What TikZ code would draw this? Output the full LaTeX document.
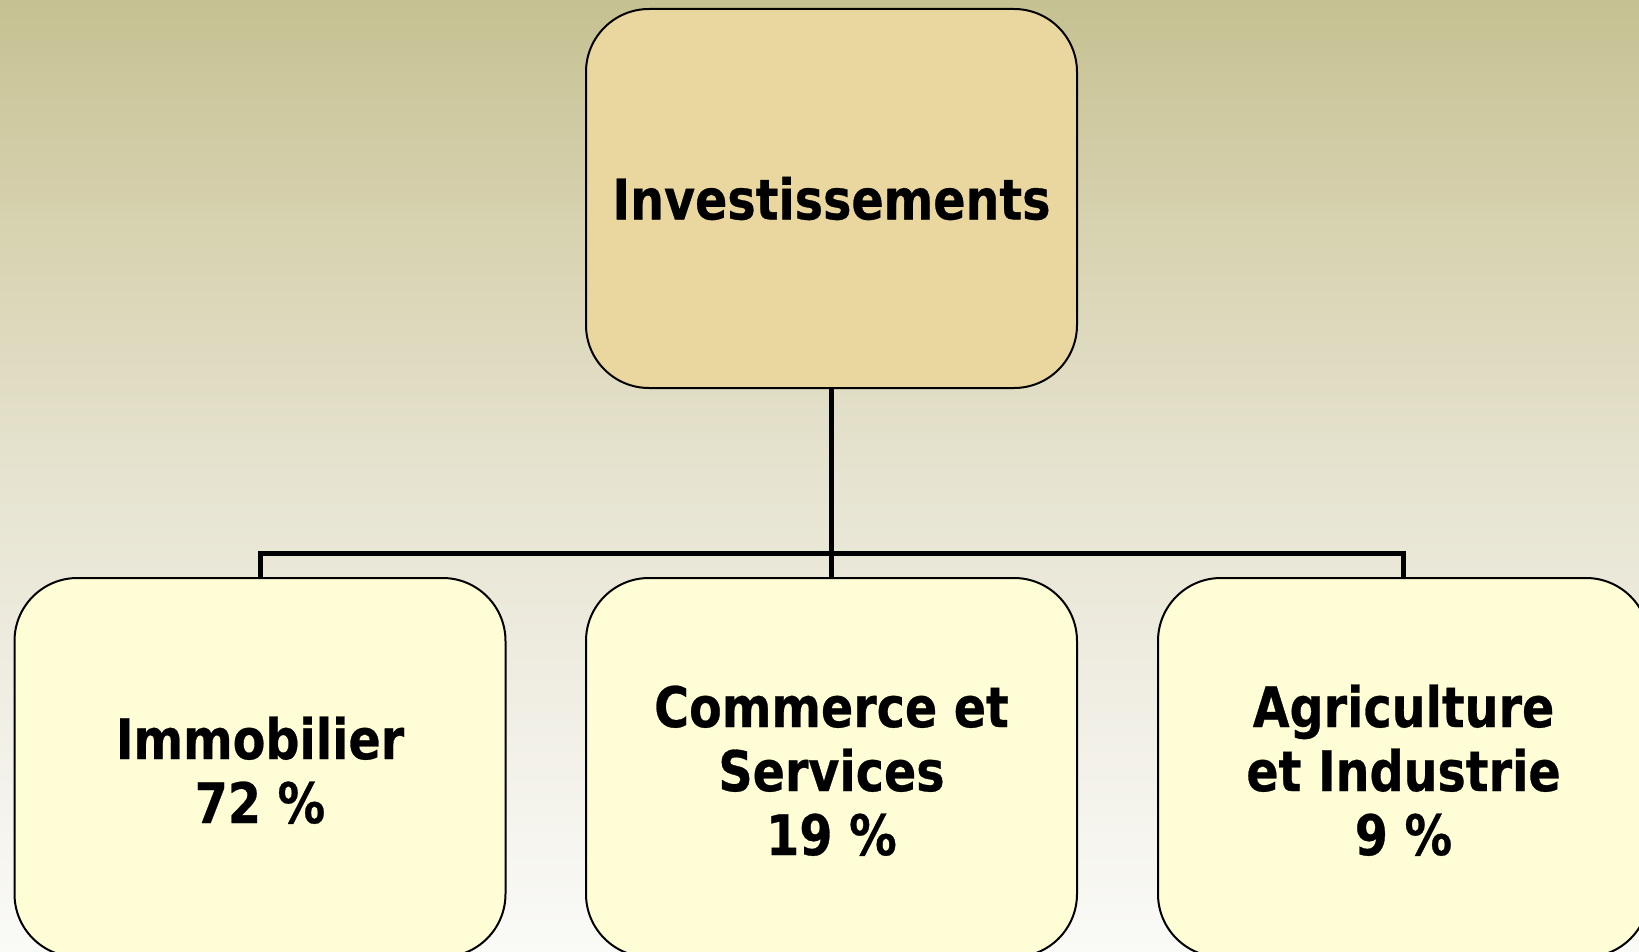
\documentclass[tikz,border=0pt]{standalone}
\usepackage{fontspec}
\setmainfont{DejaVu Sans}[FakeStretch=0.85, BoldFeatures={FakeBold=0.5}]
\definecolor{bgA}{RGB}{198,193,146}
\definecolor{bgB}{RGB}{216,211,177}
\definecolor{bgC}{RGB}{230,227,208}
\definecolor{bgD}{RGB}{241,239,229}
\definecolor{bgE}{RGB}{250,250,247}
\definecolor{topfill}{RGB}{234,215,160}
\definecolor{subfill}{RGB}{255,253,214}
\pgfdeclareverticalshading{bgshade}{100bp}{color(0bp)=(bgE); color(25bp)=(bgE); color(37.5bp)=(bgD); color(50bp)=(bgC); color(62.5bp)=(bgB); color(75bp)=(bgA); color(100bp)=(bgA)}
\tikzset{
  box/.style={draw=black, line width=1pt, rounded corners=31.5pt, minimum width=245.5pt, minimum height=189.5pt, inner sep=0pt, align=center, font=\fontsize{28}{32}\selectfont\bfseries},
  topbox/.style={box, fill=topfill},
  subbox/.style={box, fill=subfill},
  conn/.style={draw=black, line width=2.5pt}
}
\begin{document}
\begin{tikzpicture}[x=0.5pt,y=-0.5pt]
\useasboundingbox (0,0) rectangle (1639,952);
\clip (0,0) rectangle (1639,952);
\fill[shading=bgshade] (0,0) rectangle (1639,952);
\coordinate (j) at (831.5,553);
\node[topbox] (top) at (831.5,198.5) {Investissements};
\node[subbox] (b1) at (260,767.5) {\\[-8pt]Immobilier\\72 \%};
\node[subbox] (b2) at (831.5,767.5) {\\[-8pt]Commerce et\\Services\\19 \%};
\node[subbox] (b3) at (1403.5,767.5) {\\[-8pt]Agriculture\\et Industrie\\9 \%};
\draw[conn] (top.south) -- (j);
\draw[conn] (j) -| (b1.north);
\draw[conn] (j) -| (b3.north);
\draw[conn] (j) -- (b2.north);
\end{tikzpicture}
\end{document}
